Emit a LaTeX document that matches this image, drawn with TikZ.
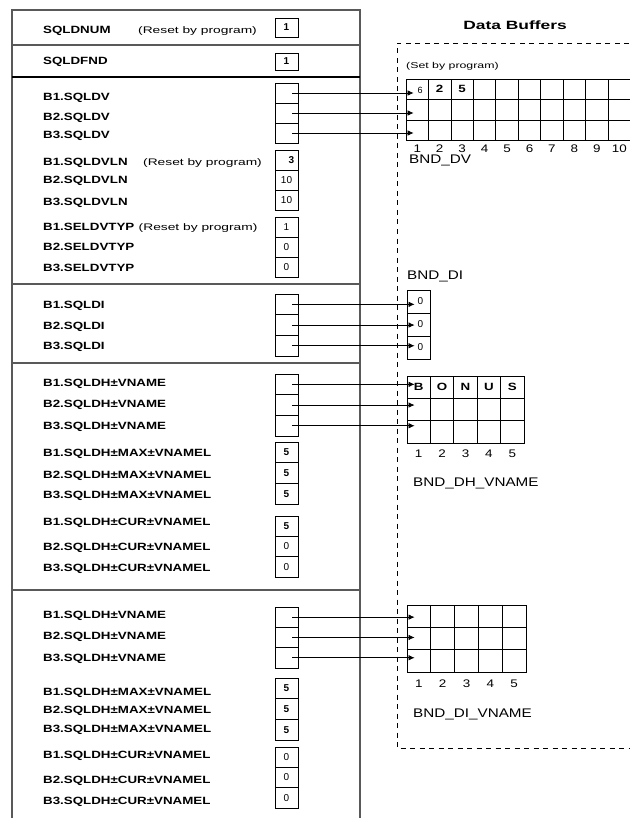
\documentclass[tikz,border=0pt]{standalone}
\usepackage{fontspec}
\setmainfont{Liberation Sans}
\newfontfamily\panelfont[FakeStretch=1.45]{Liberation Sans}
\newfontfamily\lblfont[FakeStretch=1.27]{Liberation Sans}
\newfontfamily\buffont[FakeStretch=1.22]{Liberation Sans}
\usetikzlibrary{arrows.meta}

\begin{document}
\begin{tikzpicture}[x=1pt,y=-1pt,>={Latex[length=6pt,width=5.5pt]},
  lbl/.style={anchor=west,inner sep=0pt,text height=7.5pt,text depth=0pt,font=\lblfont\bfseries\fontsize{10.5}{12}\selectfont},
  note/.style={anchor=west,inner sep=0pt,text height=7pt,text depth=0pt,font=\panelfont\fontsize{9.5}{11}\selectfont},
  slot/.style={draw,line width=0.8pt,minimum width=23pt,inner sep=0pt,font=\fontsize{10}{12}\selectfont},
  bufcell/.style={draw,line width=0.8pt,inner sep=0pt},
  val/.style={inner sep=0pt,font=\fontsize{10}{12}\selectfont},
  bval/.style={inner sep=0pt,font=\lblfont\bfseries\fontsize{10.5}{12}\selectfont},
  num/.style={inner sep=0pt,font=\buffont\fontsize{11}{13}\selectfont},
  buflbl/.style={anchor=west,inner sep=0pt,text height=9pt,text depth=0pt,font=\buffont\fontsize{12.5}{14}\selectfont},
  conn/.style={->,line width=0.7pt,shorten >=-8pt},
  panel/.style={black!65,line width=1.2pt}]
\useasboundingbox (0,0) rectangle (629,818);
% descriptor panel
\draw[panel] (12,818) -- (12,10) -- (360,10) -- (360,818);
\foreach \y in {45,284,363,590} \draw[panel] (12,\y) -- (360,\y);
\draw[line width=1.6pt] (12,77) -- (360,77);
\foreach \txt/\y [count=\i] in {SQLDNUM/30,SQLDFND/61,
  B1.SQLDV/97,B2.SQLDV/117,B3.SQLDV/135,
  B1.SQLDVLN/162,B2.SQLDVLN/180,B3.SQLDVLN/202,
  B1.SELDVTYP/227,B2.SELDVTYP/247,B3.SELDVTYP/268,
  B1.SQLDI/305,B2.SQLDI/326,B3.SQLDI/346,
  B1.SQLDH±VNAME/383,B2.SQLDH±VNAME/404,B3.SQLDH±VNAME/426,
  B1.SQLDH±MAX±VNAMEL/453,B2.SQLDH±MAX±VNAMEL/475,B3.SQLDH±MAX±VNAMEL/495,
  B1.SQLDH±CUR±VNAMEL/522,B2.SQLDH±CUR±VNAMEL/547,B3.SQLDH±CUR±VNAMEL/568,
  B1.SQLDH±VNAME/615,B2.SQLDH±VNAME/636,B3.SQLDH±VNAME/658,
  B1.SQLDH±MAX±VNAMEL/692,B2.SQLDH±MAX±VNAMEL/710,B3.SQLDH±MAX±VNAMEL/729,
  B1.SQLDH±CUR±VNAMEL/755,B2.SQLDH±CUR±VNAMEL/780,B3.SQLDH±CUR±VNAMEL/801}
  \node[lbl] (lab\i) at (43,\y) {\txt};
\node[note] (reset1) at (138,30) {(Reset by program)};
\node[note] (reset2) at (143,162) {(Reset by program)};
\node[note] (reset3) at ([xshift=4pt]lab9.east) {(Reset by program)};
\node[slot,minimum height=19pt] (sqldnum) at (286.5,27.5) {\bfseries 1};
\node[slot,minimum height=17pt] (sqldfnd) at (286.5,61.5) {\bfseries 1};
\foreach \g/\t/\h/\va/\vb/\vc in {dv/83/20/{}/{}/{},
  vln/150/20/{\hspace*{10pt}\bfseries 3}/10/10,
  typ/217/20/1/0/0,
  di/294/20.7/{}/{}/{},
  dhv/374/20.7/{}/{}/{},
  dhmax/442/20.7/{\bfseries 5}/{\bfseries 5}/{\bfseries 5},
  dhcur/516/20.3/{\bfseries 5}/0/0,
  div/607/20.3/{}/{}/{},
  dimax/678/20.7/{\bfseries 5}/{\bfseries 5}/{\bfseries 5},
  dicur/747/20.3/0/0/0}{
  \node[slot,minimum height=\h] (\g1) at (286.5,{\t+0.5*\h}) {\va};
  \node[slot,minimum height=\h] (\g2) at (286.5,{\t+1.5*\h}) {\vb};
  \node[slot,minimum height=\h] (\g3) at (286.5,{\t+2.5*\h}) {\vc};
}
% data buffers
\node[font=\panelfont\bfseries\fontsize{12}{14}\selectfont,inner sep=0pt] (title) at (515,25) {Data Buffers};
\draw[dash pattern=on 5pt off 4.5pt,line width=0.8pt] (629,43) -- (397,43) -- (397,748) -- (629,748);
\node[note,font=\panelfont\fontsize{8.5}{10}\selectfont] (setby) at (406,65) {(Set by program)};
\foreach \r in {1,2,3} \foreach \c in {1,...,10}
  \node[bufcell,minimum width=22.45,minimum height=20.5] (bdv-\r-\c) at ({406+22.45*(\c-0.5)},{79+20.5*(\r-0.5)}) {};
\foreach \c in {1,...,10} \node[num] (ndv\c) at ({406+22.45*(\c-0.5)},149) {\c};
\node[val,font=\fontsize{9}{10}\selectfont] (v6) at ([xshift=3pt,yshift=-1pt]bdv-1-1) {6};
\node[bval] (v2) at (bdv-1-2) {2};
\node[bval] (v5) at (bdv-1-3) {5};
\node[buflbl] (bnddv) at (409,159) {BND\_DV};
\node[buflbl] (bnddi) at (407,275) {BND\_DI};
\foreach \r in {1,2,3} {
  \node[bufcell,minimum width=23,minimum height=23] (bdi-\r-1) at (418.5,{290+23*(\r-0.5)}) {};
  \node[val] (z\r) at ([xshift=2pt]bdi-\r-1) {0};
}
\foreach \r in {1,2,3} \foreach \c in {1,...,5}
  \node[bufcell,minimum width=23.4,minimum height=22.3] (bdh-\r-\c) at ({407+23.4*(\c-0.5)},{376+22.3*(\r-0.5)}) {};
\foreach \c/\l in {1/B,2/O,3/N,4/U,5/S} \node[bval] (ch\c) at ([xshift=\ifnum\c=1 3pt\else 0pt\fi]bdh-1-\c) {\l};
\foreach \c in {1,...,5} \node[num] (ndh\c) at ({407+23.4*(\c-0.5)},454) {\c};
\node[buflbl] (bnddh) at (413,482) {BND\_DH\_VNAME};
\foreach \r in {1,2,3} \foreach \c in {1,...,5}
  \node[bufcell,minimum width=23.8,minimum height=22.3] (bdiv-\r-\c) at ({407+23.8*(\c-0.5)},{605+22.3*(\r-0.5)}) {};
\foreach \c in {1,...,5} \node[num] (ndiv\c) at ({407+23.8*(\c-0.5)},684) {\c};
\node[buflbl] (bnddiv) at (413,713) {BND\_DI\_VNAME};
% pointers
\foreach \g/\b in {dv/bdv,di/bdi,dhv/bdh,div/bdiv} \foreach \r in {1,2,3}
  \draw[conn] ([xshift=-6pt]\g\r.east) -- (\g\r -| \b-\r-1.west);
\end{tikzpicture}
\end{document}
